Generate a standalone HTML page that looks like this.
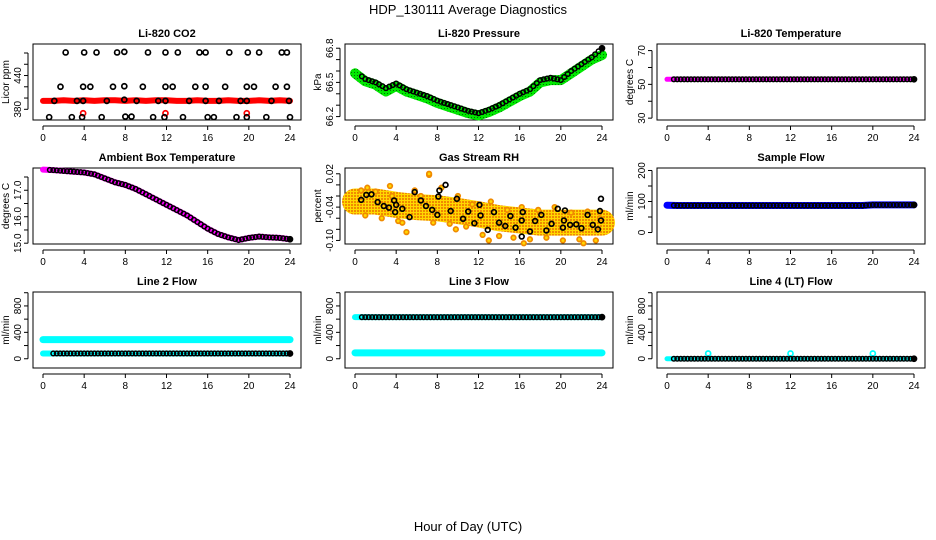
<!DOCTYPE html>
<html><head><meta charset="utf-8"><style>
body{margin:0;background:#fff;}
svg{display:block;font-family:"Liberation Sans",sans-serif;}
</style></head><body>
<svg id="c" width="936" height="540" viewBox="0 0 936 540" xmlns="http://www.w3.org/2000/svg">
<defs>
<pattern id="rhpat" width="3" height="3" patternUnits="userSpaceOnUse">
<rect width="3" height="3" fill="#ffd800"/>
<rect width="2" height="2" fill="#f08a00"/>
</pattern>
<pattern id="grpat" width="3" height="3" patternUnits="userSpaceOnUse">
<rect width="3" height="3" fill="#00e800"/>
<rect width="1" height="1" fill="#007000"/>
</pattern>
</defs>
<text x="468" y="14" text-anchor="middle" font-size="13">HDP_130111  Average Diagnostics</text>
<text x="468" y="531" text-anchor="middle" font-size="13">Hour of Day (UTC)</text>
</svg>
<script>
// ---- data ----
const xTicks = [0,4,8,12,16,20,24];
const hours = [0,1,2,3,4,5,6,7,8,9,10,11,12,13,14,15,16,17,18,19,20,21,22,23,24];
// CO2
const co2BlackT = [2.2,4.0,5.2,7.2,7.9,10.2,11.9,13.1,15.2,15.8,18.1,19.9,21.0,23.2,23.7, 1.7,3.9,4.6,6.8,7.9,9.7,11.9,12.6,14.8,15.8,17.7,19.8,20.5,22.6,23.7, 1.1,3.3,3.9,6.2,7.9,9.1,11.2,11.9,14.2,15.8,17.1,19.2,19.8,22.2,23.9, 0.6,2.8,3.8,5.7,8.0,8.6,10.7,11.8,13.6,16.0,16.6,18.8,19.8,21.7,24];
const co2BlackV = [481,481,481,481,482,481,481,481,481,481,481,481,481,481,481, 420,420,420,420,421,420,420,420,420,420,420,420,420,420,420, 395,395,395,395,397,395,395,395,395,395,395,395,395,395,395, 366,366,366,366,367,367,366,366,366,366,366,366,366,366,366];
const co2Red = [395,395,396,395,396,395,396,396,395,396,395,396,396,395,395,396,395,395,396,395,395,396,395,396,395];
const co2RedOutT = [3.9,11.9,19.8];
const co2RedOutV = [373,373,373];
// Pressure
const presBlack = [66.60,66.53,66.50,66.45,66.49,66.44,66.41,66.38,66.34,66.31,66.28,66.25,66.23,66.26,66.30,66.35,66.40,66.44,66.52,66.54,66.52,66.60,66.66,66.72,66.80];
const presGreen = [66.58,66.51,66.48,66.42,66.47,66.42,66.39,66.36,66.32,66.29,66.26,66.23,66.21,66.24,66.28,66.33,66.38,66.42,66.50,66.52,66.52,66.58,66.64,66.70,66.74];
// Li-820 temperature
const tempVals = [53,53,53,53,53,53,53,53,53,53,53,53,53,53,53,53,53,53,53,53,53,53,53,53,53];
// Ambient box temperature
const ambVals = [17.78,17.76,17.73,17.70,17.67,17.60,17.45,17.30,17.20,17.05,16.85,16.65,16.45,16.25,16.05,15.80,15.55,15.35,15.22,15.12,15.20,15.25,15.22,15.20,15.15];
// Gas stream RH
const rhBandT = [0,2,4,6,8,10,12,14,16,18,20,22,24];
const rhBandV = [-0.030,-0.030,-0.036,-0.040,-0.042,-0.047,-0.053,-0.060,-0.064,-0.068,-0.068,-0.068,-0.068];
const rhOrangeT = [0.6,1.2,2.0,2.6,3.4,4.2,5.0,5.8,6.4,7.2,7.6,8.4,9.2,10.0,10.8,11.4,12.4,13.2,14.0,14.8,15.4,16.2,17.0,17.8,18.6,19.4,20.2,21.0,21.8,22.6,23.4,23.8,7.2,3.6,1.0,16.4,22.2,13.0,9.8,4.6];
const rhOrangeV = [-0.010,-0.005,-0.012,-0.060,-0.002,-0.065,-0.085,-0.010,-0.020,0.018,-0.068,-0.005,-0.070,-0.020,-0.075,-0.035,-0.090,-0.030,-0.092,-0.045,-0.095,-0.040,-0.098,-0.045,-0.095,-0.040,-0.100,-0.050,-0.098,-0.048,-0.100,-0.060,0.020,-0.020,-0.055,-0.105,-0.105,-0.100,-0.080,-0.068];
const rhBlackT = [0.6,1.1,1.6,2.2,2.8,3.3,3.8,4.0,3.9,4.6,5.3,5.8,6.4,6.9,7.5,8.0,8.1,8.2,8.8,9.3,9.9,10.5,11.0,11.6,12.1,12.2,12.9,13.5,14.0,14.6,15.1,15.6,16.2,16.3,16.2,17.0,17.5,18.1,18.6,19.1,19.7,20.3,20.2,20.4,20.9,21.5,22.0,22.6,23.1,23.6,23.9,23.8,23.9];
const rhBlackV = [-0.027,-0.018,-0.017,-0.031,-0.038,-0.041,-0.028,-0.036,-0.049,-0.043,-0.058,-0.013,-0.028,-0.038,-0.045,-0.054,-0.021,-0.010,0.000,-0.047,-0.025,-0.061,-0.048,-0.069,-0.036,-0.055,-0.081,-0.049,-0.068,-0.074,-0.056,-0.077,-0.064,-0.049,-0.093,-0.084,-0.065,-0.054,-0.082,-0.070,-0.043,-0.064,-0.077,-0.046,-0.072,-0.071,-0.078,-0.054,-0.072,-0.080,-0.025,-0.047,-0.064];
// Sample flow
const sampleVals = [88,87,87,87,87,87,87,87,87,87,87,87,87,87,87,87,87,87,87,87,89,89,89,89,89];
// Line flows
const line2Cyan = [290,290,290,290,290,290,290,290,290,290,290,290,290,290,290,290,290,290,290,290,290,290,290,290,290];
const line2Black = [80,80,80,80,80,80,80,80,80,80,80,80,80,80,80,80,80,80,80,80,80,80,80,80,80];
const line3Black = [630,630,630,630,630,630,630,630,630,630,630,630,630,630,630,630,630,630,630,630,630,630,630,630,630];
const line3Cyan = [90,90,90,90,90,90,90,90,90,90,90,90,90,90,90,90,90,90,90,90,90,90,90,90,90];
const line4Black = [0,0,0,0,0,0,0,0,0,0,0,0,0,0,0,0,0,0,0,0,0,0,0,0,0];
const line4SpikeT = [4,12,20];
const line4SpikeV = [80,80,80];

const svg = document.getElementById('c');
const NS = 'http://www.w3.org/2000/svg';
function mk(tag, attrs, parent){ const e=document.createElementNS(NS,tag); for(const k in attrs) e.setAttribute(k,attrs[k]); (parent||svg).appendChild(e); return e; }

function panel(col,row,title,ylab,ymin,ymax,yTicks,yLabels,name){
  const g = mk('g',{});
  
  
  const L=33+312*col, R=301+312*col, T=44+124*row, B=T+76;
  const sx = h => 43+312*col + h*(247/24);
  const sy = v => B - (v-ymin)/(ymax-ymin)*(B-T);
  const box = mk('rect',{x:L,y:T,width:R-L,height:B-T,fill:'none',stroke:'#000','stroke-width':1},g);
  
  
  const t = mk('text',{x:(L+R)/2,y:T-7,'text-anchor':'middle','font-size':11,'font-weight':'bold'},g);
  t.textContent = title;
  
  
  const yl = mk('text',{x:0,y:0,'text-anchor':'middle','font-size':10,transform:`translate(${L-24},${(T+B)/2}) rotate(-90)`},g);
  yl.textContent = ylab;
  
  
  mk('line',{x1:sx(0),x2:sx(24),y1:B+6,y2:B+6,stroke:'#000'},g);
  xTicks.forEach(h=>{
    mk('line',{x1:sx(h),x2:sx(h),y1:B+6,y2:B+10,stroke:'#000'},g);
    const tl = mk('text',{x:sx(h),y:B+21,'text-anchor':'middle','font-size':10},g);
    tl.textContent = h;
    
    
  });
  mk('line',{x1:L-5,x2:L-5,y1:sy(yTicks[0]),y2:sy(yTicks[yTicks.length-1]),stroke:'#000'},g);
  yTicks.forEach(v=>{ mk('line',{x1:L-9,x2:L-5,y1:sy(v),y2:sy(v),stroke:'#000'},g); });
  yLabels.forEach(v=>{
    const tl = mk('text',{x:0,y:0,'text-anchor':'middle','font-size':10,transform:`translate(${L-12},${sy(+v)}) rotate(-90)`},g);
    tl.textContent = v;
    
    
  });
  const clip = mk('g',{},g);
  return {g:clip,sx,sy};
}
function band(p,ts,vs,color,w,name){
  const pts = ts.map((t,i)=>p.sx(t)+','+p.sy(vs[i])).join(' ');
  const e = mk('polyline',{points:pts,fill:'none',stroke:color,'stroke-width':w,'stroke-linecap':'round','stroke-linejoin':'round'},p.g);
  
  
}
function pts(p,ts,vs,color,r,name,fill){
  ts.forEach((t,i)=>{
    const c = mk('circle',{cx:p.sx(t),cy:p.sy(vs[i]),r:r,fill:fill||'none',stroke:color,'stroke-width':1.7},p.g);
    
    
  });
}
function densePts(p,vals,color,name,start){
  for(let i=0;i<vals.length-1;i++){
    for(let k=0;k<3;k++){
      const t=hours[i]+k/3; if(t<start) continue;
      const v=vals[i]+(vals[i+1]-vals[i])*k/3;
      const c = mk('circle',{cx:p.sx(t),cy:p.sy(v),r:2.3,fill:'none',stroke:color,'stroke-width':1.5},p.g);
      
      
    }
  }
  const c = mk('circle',{cx:p.sx(24),cy:p.sy(vals[24]),r:2.6,fill:color,stroke:color,'stroke-width':1.5},p.g);
  
  
}

let p = panel(0,0,'Li-820 CO2','Licor ppm',361,496,[380,400,420,440,460,480],['380','440'],'co2');
band(p,hours,co2Red,'#f00',6,'co2-red-series');
pts(p,co2RedOutT,co2RedOutV,'#f00',2.5,'co2-red-point');
pts(p,co2BlackT,co2BlackV,'#000',2.5,'co2-black-point');
p = panel(1,0,'Li-820 Pressure','kPa',66.17,66.837,[66.2,66.3,66.4,66.5,66.6,66.7,66.8],['66.2','66.5','66.8'],'pressure');
band(p,hours,presGreen,'url(#grpat)',10,'pressure-green-series');
densePts(p,presBlack,'#000','pressure-black-point',0.5);
p = panel(2,0,'Li-820 Temperature','degrees C',28.9,73.9,[30,40,50,60,70],['30','50','70'],'li820-temp');
band(p,hours,tempVals,'#f0f',5,'li820-temp-magenta-series');
densePts(p,tempVals,'#000','li820-temp-black-point',0.6);
p = panel(0,1,'Ambient Box Temperature','degrees C',14.97,17.84,[15,15.5,16,16.5,17,17.5],['15.0','16.0','17.0'],'ambient-temp');
band(p,hours,ambVals,'#f0f',6,'ambient-magenta-series');
densePts(p,ambVals,'#000','ambient-black-point',0.6);
p = panel(1,1,'Gas Stream RH','percent',-0.1064,0.0304,[-0.10,-0.08,-0.06,-0.04,-0.02,0,0.02],['-0.10','-0.04','0.02'],'rh');
band(p,rhBandT,rhBandV,'url(#rhpat)',26,'rh-orange-band');
pts(p,rhOrangeT,rhOrangeV,'#f08a00',2.3,'rh-orange-point','#ffd800');
pts(p,rhBlackT,rhBlackV,'#000',2.4,'rh-black-point');
p = panel(2,1,'Sample Flow','ml/min',-37,208,[0,50,100,150,200],['0','100','200'],'sample-flow');
band(p,hours,sampleVals,'#00f',7,'sample-flow-blue-series');
densePts(p,sampleVals,'#000','sample-flow-black-point',0.6);
const fT=[0,200,400,600,800,1000], fL=['0','400','800'];
p = panel(0,2,'Line 2 Flow','ml/min',-140,1011,fT,fL,'line2-flow');
band(p,hours,line2Cyan,'#0ff',7,'line2-cyan-series');
band(p,hours,line2Black,'#0ff',6,'line2-cyan-low-series');
densePts(p,line2Black,'#000','line2-black-point',1.0);
p = panel(1,2,'Line 3 Flow','ml/min',-140,1011,fT,fL,'line3-flow');
band(p,hours,line3Cyan,'#0ff',7,'line3-cyan-series');
band(p,hours,line3Black,'#0ff',6,'line3-cyan-high-series');
densePts(p,line3Black,'#000','line3-black-point',0.6);
p = panel(2,2,'Line 4 (LT) Flow','ml/min',-140,1011,fT,fL,'line4-flow');
band(p,hours,line4Black,'#0ff',5,'line4-cyan-series');
pts(p,line4SpikeT,line4SpikeV,'#0ff',2.5,'line4-cyan-spike');
densePts(p,line4Black,'#000','line4-black-point',0.6);
</script>
</body></html>
